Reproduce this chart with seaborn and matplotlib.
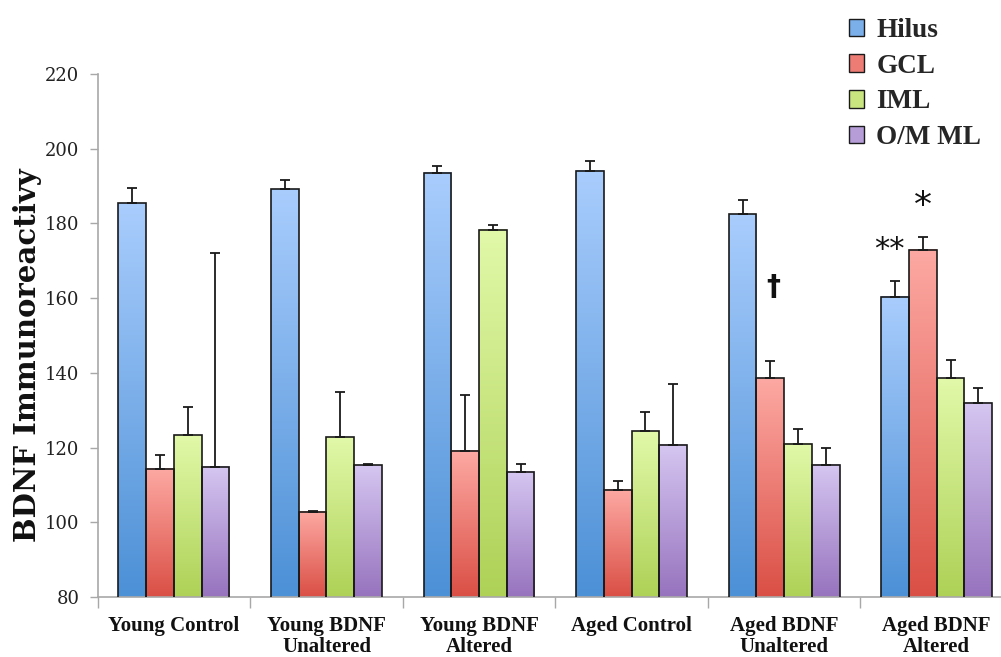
import numpy as np
import pandas as pd
import matplotlib
matplotlib.use("Agg")
import matplotlib.pyplot as plt
from matplotlib.colors import LinearSegmentedColormap, to_rgb
from matplotlib.container import BarContainer
from matplotlib.patches import Patch
import seaborn as sns

categories = ["Young Control", "Young BDNF\nUnaltered", "Young BDNF\nAltered",
              "Aged Control", "Aged BDNF\nUnaltered", "Aged BDNF\nAltered"]
regions = ["Hilus", "GCL", "IML", "O/M ML"]
hilus = [185.4, 189.1, 193.5, 194.1, 182.4, 160.4]
gcl = [114.3, 102.8, 119.2, 108.7, 138.6, 173.0]
iml = [123.3, 122.8, 178.3, 124.4, 121.0, 138.5]
omml = [114.8, 115.3, 113.5, 120.8, 115.4, 132.0]
hilus_err = [4.2, 2.4, 1.8, 2.5, 4.0, 4.3]
gcl_err = [3.7, 0.3, 15.0, 2.4, 4.5, 3.3]
iml_err = [7.5, 12.0, 1.4, 5.1, 3.9, 5.0]
omml_err = [57.4, 0.3, 2.0, 16.3, 4.6, 3.9]
yticks = [80, 100, 120, 140, 160, 180, 200, 220]
annotations = [("\u2020", 4, "GCL"), ("**", 5, "Hilus"), ("*", 5, "GCL")]

top_cols = ["#a9cdfd", "#fda9a3", "#e1f9a9", "#d5c6f1"]
bot_cols = ["#4c90d6", "#da4f45", "#aed156", "#9773be"]

values = [hilus, gcl, iml, omml]
errs = [hilus_err, gcl_err, iml_err, omml_err]
df = pd.DataFrame({
    "category": np.tile(categories, len(regions)),
    "region": np.repeat(regions, len(categories)),
    "value": np.concatenate(values),
})

sns.set_style("white")
plt.rcParams["font.family"] = ["Liberation Serif", "DejaVu Serif"]

fig = plt.figure(figsize=(10.01, 6.57), dpi=100)
ax = fig.add_axes([0.0975, 0.0913, 0.9145, 0.7961])

sns.barplot(data=df, x="category", y="value", hue="region", order=categories,
            hue_order=regions, palette=bot_cols, width=0.726, gap=0,
            edgecolor="#1a1a1a", linewidth=1.2, errorbar=None, ax=ax, legend=False)

ymin, ymax = yticks[0], yticks[-1]
ax.set_ylim(ymin, ymax)
ax.set_xlim(-0.5, len(categories) - 0.5)

bar_containers = [c for c in ax.containers if isinstance(c, BarContainer)][:len(regions)]
for i, cont in enumerate(bar_containers):
    cmap = LinearSegmentedColormap.from_list("g%d" % i, [bot_cols[i], top_cols[i]])
    xs, tops = [], []
    for patch in cont.patches:
        x0, y0 = patch.get_x(), patch.get_y()
        w, h = patch.get_width(), patch.get_height()
        top = y0 + h
        grad = np.linspace(0, 1, 256).reshape(-1, 1)
        ax.imshow(grad, cmap=cmap, origin="lower", aspect="auto",
                  extent=[x0, x0 + w, ymin, top], zorder=1.5, interpolation="bilinear")
        patch.set_facecolor("none")
        patch.set_zorder(3)
        xs.append(x0 + w / 2)
        tops.append(top)
    e = errs[i]
    ax.errorbar(xs, tops, yerr=[np.zeros(len(e)), e], fmt="none", ecolor="#1a1a1a",
                elinewidth=1.3, capsize=3.6, capthick=1.3, zorder=2.5)

ax.set_ylim(ymin, ymax)
ax.set_xlim(-0.5, len(categories) - 0.5)
ax.set_aspect("auto")

# significance marks
for sym, ci, reg in annotations:
    ri = regions.index(reg)
    p = bar_containers[ri].patches[ci]
    xc = p.get_x() + p.get_width() / 2
    ytop = p.get_y() + p.get_height() + errs[ri][ci]
    if sym == "**":
        ax.text(p.get_x() + p.get_width() * 0.3, ytop + 8.2, sym, ha="center", va="center",
                fontsize=22, family="DejaVu Sans", color="#111111")
    elif sym == "*":
        ax.text(xc, ytop + 8.3, sym, ha="center", va="center",
                fontsize=26, family="DejaVu Sans", color="#111111")
    else:
        ax.text(xc + 0.02, ytop + 20, sym, ha="center", va="center",
                fontsize=20, family="DejaVu Sans", fontweight="bold", color="#111111")

for s in ["top", "right"]:
    ax.spines[s].set_visible(False)
for s in ["left", "bottom"]:
    ax.spines[s].set_color("#a8a8a8")
    ax.spines[s].set_linewidth(1.2)

ax.set_yticks(yticks)
ax.set_yticklabels([str(t) for t in yticks], fontsize=13, color="#222222",
                   family="DejaVu Serif")
ax.tick_params(axis="y", which="major", direction="out", length=6, width=1,
               color="#a8a8a8", pad=7, left=True)
ax.set_xticks(range(len(categories)))
ax.set_xticklabels(categories, fontsize=15, fontweight="bold", color="#111111",
                   linespacing=1.02)
ax.tick_params(axis="x", which="major", length=0, pad=14)
ax.set_xticks(np.arange(-0.5, len(categories), 1.0), minor=True)
ax.tick_params(axis="x", which="minor", direction="out", length=8, width=1,
               color="#a8a8a8", bottom=True)
ax.set_xlabel("")
ax.set_ylabel("BDNF Immunoreactivy", fontsize=21, fontweight="bold", color="#111111",
              family="DejaVu Serif")
ax.yaxis.label.set_va("center")
ax.yaxis.set_label_coords(-0.0765, 0.462)

handles = [Patch(facecolor=(np.array(to_rgb(t)) + np.array(to_rgb(b))) / 2,
                 edgecolor="#1a1a1a", linewidth=1.0) for t, b in zip(top_cols, bot_cols)]
fig.legend(handles, regions, loc="upper left", bbox_to_anchor=(0.824, 1.01),
           frameon=False, prop={"family": "Liberation Serif", "weight": "bold", "size": 19.5},
           handlelength=0.55, handleheight=0.6, handletextpad=0.45, labelspacing=0.4)

fig.savefig("out.png", dpi=100)
